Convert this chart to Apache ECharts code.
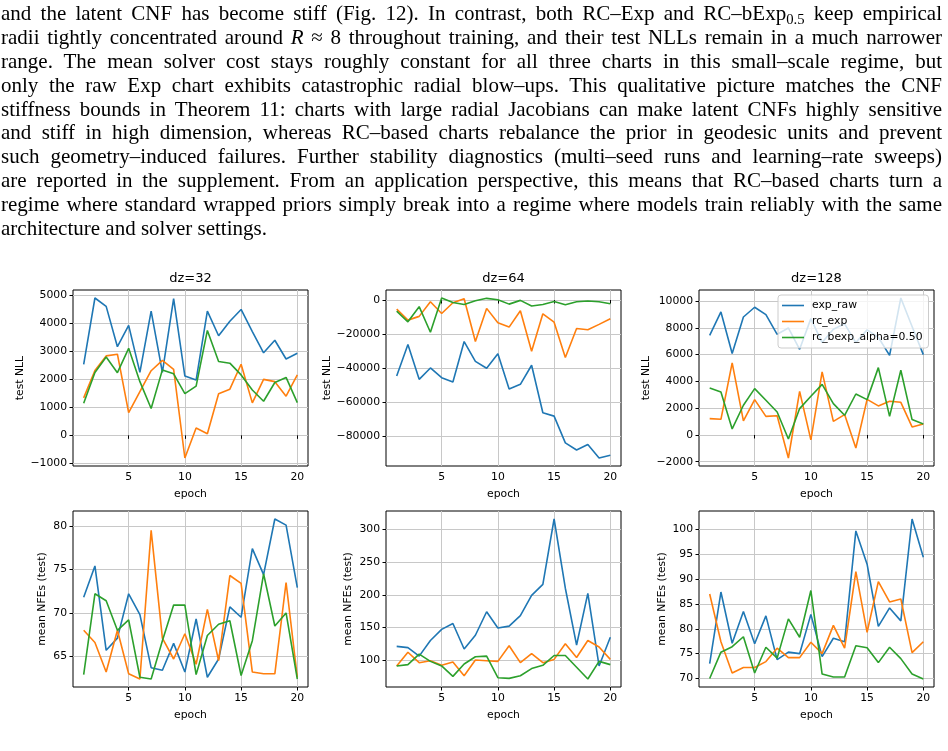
<!DOCTYPE html>
<html>
<head>
<meta charset="utf-8">
<script src="https://cdn.jsdelivr.net/npm/echarts@6/dist/echarts.min.js"></script>
<style>
  html, body { margin: 0; padding: 0; background: #fff; }
  #page { position: relative; width: 948px; height: 751px; overflow: hidden; }
  #chart { position: absolute; left: 0; top: 0; width: 948px; height: 751px; }
  #text {
    position: absolute; left: 1px; top: 2px; width: 941px;
    font-family: "Liberation Serif", serif; font-size: 21px; color: #000;
  }
  .ln { height: 23.9px; line-height: 23.9px; text-align: justify; text-align-last: justify; }
  .ln.last { text-align: left; text-align-last: left; }
  sub { font-size: 70%; vertical-align: -0.3em; line-height: 0; }
</style>
</head>
<body>
<div id="page">
  <div id="chart"></div>
  <div id="text">
    <div class="ln">and the latent CNF has become stiff (Fig. 12). In contrast, both RC–Exp and RC–bExp<sub>0.5</sub> keep empirical</div>
    <div class="ln">radii tightly concentrated around <i>R</i> ≈ 8 throughout training, and their test NLLs remain in a much narrower</div>
    <div class="ln">range.  The mean solver cost stays roughly constant for all three charts in this small–scale regime, but</div>
    <div class="ln">only the raw Exp chart exhibits catastrophic radial blow–ups.  This qualitative picture matches the CNF</div>
    <div class="ln">stiffness bounds in Theorem 11: charts with large radial Jacobians can make latent CNFs highly sensitive</div>
    <div class="ln">and stiff in high dimension, whereas RC–based charts rebalance the prior in geodesic units and prevent</div>
    <div class="ln">such geometry–induced failures.  Further stability diagnostics (multi–seed runs and learning–rate sweeps)</div>
    <div class="ln">are reported in the supplement.  From an application perspective, this means that RC–based charts turn a</div>
    <div class="ln">regime where standard wrapped priors simply break into a regime where models train reliably with the same</div>
    <div class="ln last">architecture and solver settings.</div>
  </div>
</div>
<script>
// epochs shared by every panel
const epochs = [1, 2, 3, 4, 5, 6, 7, 8, 9, 10, 11, 12, 13, 14, 15, 16, 17, 18, 19, 20]
const epochTicks = [5, 10, 15, 20]

// test NLL, dz=32
const nll32Exp = [2540, 4910, 4610, 3170, 3930, 2250, 4440, 2250, 4890, 2120, 1975, 4440, 3560, 4080, 4500, 3710, 2950, 3400, 2730, 2935]
const nll32Rc = [1340, 2320, 2840, 2900, 810, 1560, 2310, 2680, 2360, -810, 260, 60, 1490, 1650, 2540, 1160, 2000, 1920, 1400, 2160]
const nll32Bexp = [1150, 2250, 2800, 2240, 3110, 1920, 960, 2340, 2200, 1490, 1760, 3750, 2640, 2580, 2160, 1620, 1220, 1890, 2070, 1170]
const nllTicks32 = [-1000, 0, 1000, 2000, 3000, 4000, 5000]

// test NLL, dz=64
const nll64Exp = [-44600, -26100, -46600, -39900, -45600, -48200, -24400, -36000, -40100, -31600, -52300, -49500, -38300, -66200, -68200, -83900, -88100, -84900, -92800, -91200]
const nll64Rc = [-5300, -11800, -9600, -1000, -7900, -1600, 800, -24400, -4900, -13400, -15900, -6300, -30100, -8100, -13000, -33800, -16700, -17500, -14300, -11000]
const nll64Bexp = [-6500, -12800, -3900, -18900, 1200, -1400, -2600, -400, 1000, 200, -2400, -200, -3500, -2600, -800, -2800, -1000, -600, -1000, -2200]
const nllTicks64 = [-80000, -60000, -40000, -20000, 0]

// test NLL, dz=128
const nll128Exp = [7440, 9190, 6080, 8810, 9540, 8990, 7520, 7990, 6400, 8690, 6900, 7900, 8300, 6900, 7850, 7300, 5950, 10230, 8100, 6000]
const nll128Rc = [1220, 1170, 5380, 1050, 2640, 1390, 1440, -1720, 3260, -370, 4710, 1020, 1520, -970, 2660, 2170, 2520, 2440, 600, 820]
const nll128Bexp = [3510, 3210, 450, 2220, 3460, 2590, 1720, -300, 1970, 2890, 3780, 2340, 1470, 3060, 2640, 5030, 1390, 4830, 1150, 820]
const nllTicks128 = [-2000, 0, 2000, 4000, 6000, 8000, 10000]

// mean NFEs (test), dz=32
const nfe32Exp = [71.8, 75.4, 65.7, 67.1, 72.2, 69.8, 63.7, 63.4, 66.5, 63.2, 69.3, 62.6, 64.7, 70.7, 69.5, 77.4, 74.4, 80.8, 80.1, 72.9]
const nfe32Rc = [68.0, 66.6, 63.2, 68.0, 63.0, 62.4, 79.5, 67.1, 64.7, 67.6, 64.1, 70.4, 64.5, 74.3, 73.4, 63.2, 63.0, 63.0, 73.5, 62.6]
const nfe32Bexp = [62.9, 72.2, 71.4, 68.0, 69.2, 62.6, 62.4, 66.8, 70.9, 70.9, 62.9, 67.4, 68.7, 69.1, 62.8, 66.8, 74.5, 68.5, 70.0, 62.4]
const nfeTicks32 = [65, 70, 75, 80]

// mean NFEs (test), dz=64
const nfe64Exp = [121, 119, 106, 130, 147, 156, 117, 138, 174, 149, 152, 168, 199, 216, 316, 210, 123, 202, 91, 135]
const nfe64Rc = [91, 112, 96, 99, 92, 97, 76, 100, 99, 98, 122, 96, 110, 96, 101, 125, 104, 130, 120, 101]
const nfe64Bexp = [91, 93, 109, 98, 91, 75, 94, 105, 106, 73, 72, 76, 87, 92, 107, 107, 89, 71, 98, 93]
const nfeTicks64 = [100, 150, 200, 250, 300]

// mean NFEs (test), dz=128
const nfe128Exp = [73.0, 87.4, 77.1, 83.5, 77.0, 82.6, 73.8, 75.3, 75.0, 82.9, 74.4, 78.1, 77.4, 99.7, 93.0, 80.5, 84.2, 81.6, 102.1, 94.4]
const nfe128Rc = [87.0, 77.4, 71.1, 72.2, 72.2, 73.4, 76.1, 74.2, 74.2, 77.3, 75.0, 80.7, 76.1, 91.5, 79.3, 89.5, 85.4, 86.0, 75.2, 77.4]
const nfe128Bexp = [70.0, 75.3, 76.4, 78.4, 71.1, 76.3, 74.1, 82.0, 78.3, 87.7, 70.9, 70.3, 70.3, 76.6, 76.2, 73.2, 76.3, 74.0, 70.9, 69.9]
const nfeTicks128 = [70, 75, 80, 85, 90, 95, 100]

const seriesNames = ['exp_raw', 'rc_exp', 'rc_bexp_alpha=0.50']
const seriesColors = ['#1f77b4', '#ff7f0e', '#2ca02c']
const titles = ['dz=32', 'dz=64', 'dz=128']

const panels = [
  { yName: 'test NLL', yTicks: nllTicks32, lines: [nll32Exp, nll32Rc, nll32Bexp], left: 73, top: 290, nameGap: 47 },
  { yName: 'test NLL', yTicks: nllTicks64, lines: [nll64Exp, nll64Rc, nll64Bexp], left: 386, top: 290, nameGap: 53 },
  { yName: 'test NLL', yTicks: nllTicks128, lines: [nll128Exp, nll128Rc, nll128Bexp], left: 699, top: 290, nameGap: 47 },
  { yName: 'mean NFEs (test)', yTicks: nfeTicks32, lines: [nfe32Exp, nfe32Rc, nfe32Bexp], left: 73, top: 511, nameGap: 25 },
  { yName: 'mean NFEs (test)', yTicks: nfeTicks64, lines: [nfe64Exp, nfe64Rc, nfe64Bexp], left: 386, top: 511, nameGap: 32 },
  { yName: 'mean NFEs (test)', yTicks: nfeTicks128, lines: [nfe128Exp, nfe128Rc, nfe128Bexp], left: 699, top: 511, nameGap: 31 },
]

const W = 235
const H = 176
const font = 'DejaVu Sans'
const fs = 10.8

// matplotlib-style 5% margins
function padRange(values) {
  const lo = Math.min(...values)
  const hi = Math.max(...values)
  const m = (hi - lo) * 0.05
  return [lo - m, hi + m]
}

function fmt(v) {
  return v < 0 ? '\u2212' + (-v) : String(v)
}

const chart = echarts.init(document.getElementById('chart'))

const grid = []
const xAxis = []
const yAxis = []
const series = []
const graphic = []

const xr = padRange(epochs)

panels.forEach((p, i) => {
  grid.push({
    left: p.left, top: p.top, width: W, height: H,
    show: true, borderColor: '#000', borderWidth: 1, backgroundColor: 'transparent',
  })

  xAxis.push({
    type: 'value', gridIndex: i, min: xr[0], max: xr[1],
    name: 'epoch', nameLocation: 'middle', nameGap: 23,
    nameTextStyle: { fontFamily: font, fontSize: fs, color: '#000' },
    axisLine: { show: false },
    axisTick: { show: true, inside: false, length: 3.5, customValues: epochTicks, lineStyle: { color: '#000' } },
    axisLabel: { customValues: epochTicks, margin: 6, fontFamily: font, fontSize: fs, color: '#000' },
    splitLine: { show: true, lineStyle: { color: '#c8c8c8', width: 1 } },
  })

  const allVals = [].concat(...p.lines)
  const yr = padRange(allVals)
  yAxis.push({
    type: 'value', gridIndex: i, min: yr[0], max: yr[1],
    name: p.yName, nameLocation: 'middle', nameGap: p.nameGap, nameRotate: 90,
    nameTextStyle: { fontFamily: font, fontSize: fs, color: '#000' },
    axisLine: { show: false },
    axisTick: { show: true, inside: false, length: 3.5, customValues: p.yTicks, lineStyle: { color: '#000' } },
    axisLabel: { customValues: p.yTicks, margin: 6, fontFamily: font, fontSize: fs, color: '#000', formatter: fmt },
    splitLine: { show: true, lineStyle: { color: '#c8c8c8', width: 1 } },
  })

  p.lines.forEach((vals, k) => {
    series.push({
      name: seriesNames[k],
      type: 'line',
      xAxisIndex: i,
      yAxisIndex: i,
      data: epochs.map((e, j) => [e, vals[j]]),
      showSymbol: false,
      symbol: 'none',
      lineStyle: { width: 1.6, color: seriesColors[k] },
      itemStyle: { color: seriesColors[k] },
      z: 3,
    })
  })

  if (i < 3) {
    graphic.push({
      type: 'text', x: p.left + W / 2, y: p.top - 11,
      style: {
        text: titles[i], fontFamily: font, fontSize: 13, fill: '#000',
        textAlign: 'center', textVerticalAlign: 'middle',
      },
    })
  }
})

chart.setOption({
  animation: false,
  backgroundColor: 'transparent',
  grid,
  xAxis,
  yAxis,
  series,
  graphic,
  legend: {
    data: seriesNames,
    orient: 'vertical',
    left: 778,
    top: 295,
    icon: 'rect',
    itemWidth: 22,
    itemHeight: 1.6,
    itemGap: 5,
    padding: [5, 6, 5, 4],
    backgroundColor: 'rgba(255,255,255,0.8)',
    borderColor: '#cccccc',
    borderWidth: 1,
    borderRadius: 3,
    textStyle: { fontFamily: font, fontSize: fs, color: '#000', padding: [0, 0, 0, 3] },
    z: 10,
  },
})
</script>
</body>
</html>
